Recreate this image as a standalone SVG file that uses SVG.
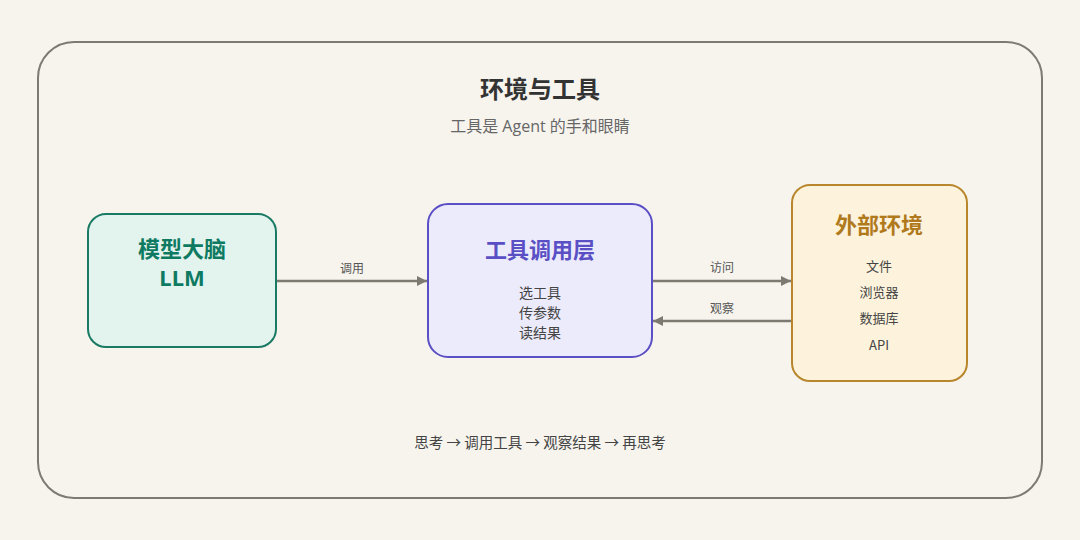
<svg xmlns="http://www.w3.org/2000/svg" width="1080" height="540" viewBox="0 0 1080 540">
<defs>
<marker id="ah" viewBox="0 0 10 10" refX="10" refY="5" markerWidth="10" markerHeight="10" markerUnits="userSpaceOnUse" orient="auto">
<path d="M0,0 L10,5 L0,10 z" fill="#7d7a72"/>
</marker>
<style>
text{font-family:"Noto Sans CJK SC","Noto Sans",sans-serif;text-anchor:middle}
.t{font-size:22px;font-weight:bold}
.i{font-size:14px;fill:#444}
.l{font-size:12px;fill:#555}
.c{stroke:#7d7a72;stroke-width:2.5;fill:none;marker-end:url(#ah)}
</style>
</defs>
<rect width="1080" height="540" fill="#f7f4ee"/>
<rect x="38" y="42" width="1004" height="456" rx="36" fill="#f7f4ee" stroke="#7d7a72" stroke-width="2"/>
<text x="540" y="98" style="font-size:24px;font-weight:bold" fill="#333">环境与工具</text>
<text x="540" y="132" style="font-size:16px;font-family:'Open Sans','Noto Sans CJK SC',sans-serif" fill="#666">工具是 Agent 的手和眼睛</text>
<g id="connectors">
<line class="c" x1="277" y1="281" x2="427" y2="281"/>
<text class="l" x="352" y="273">调用</text>
<line class="c" x1="653" y1="281" x2="791" y2="281"/>
<text class="l" x="722" y="272">访问</text>
<line class="c" x1="791" y1="321" x2="653" y2="321"/>
<text class="l" x="722" y="313">观察</text>
</g>
<g id="llm">
<rect x="88" y="214" width="188" height="133" rx="18" fill="#e3f4ee" stroke="#1a7a63" stroke-width="2"/>
<text class="t" x="182" y="257" fill="#0f7a62">模型大脑</text>
<text class="t" x="182" y="286" fill="#0f7a62" style="font-family:'Noto Sans',sans-serif">LLM</text>
</g>
<g id="tools">
<rect x="428" y="204" width="224" height="153" rx="20" fill="#ecebfb" stroke="#5a4fc4" stroke-width="2"/>
<text class="t" x="540" y="258" fill="#5a4fc4">工具调用层</text>
<text class="i" x="540" y="298">选工具</text>
<text class="i" x="540" y="318">传参数</text>
<text class="i" x="540" y="338">读结果</text>
</g>
<g id="env">
<rect x="792" y="185" width="175" height="196" rx="18" fill="#fdf3dc" stroke="#b8862c" stroke-width="2"/>
<text class="t" x="879" y="233" fill="#b07a1c">外部环境</text>
<text class="i" x="879" y="271" style="font-size:13px">文件</text>
<text class="i" x="879" y="297" style="font-size:13px">浏览器</text>
<text class="i" x="879" y="323" style="font-size:13px">数据库</text>
<text class="i" x="879" y="350" style="font-size:13px">API</text>
</g>
<text x="540" y="448" style="font-size:14.5px" fill="#444">思考 → 调用工具 → 观察结果 → 再思考</text>
</svg>
